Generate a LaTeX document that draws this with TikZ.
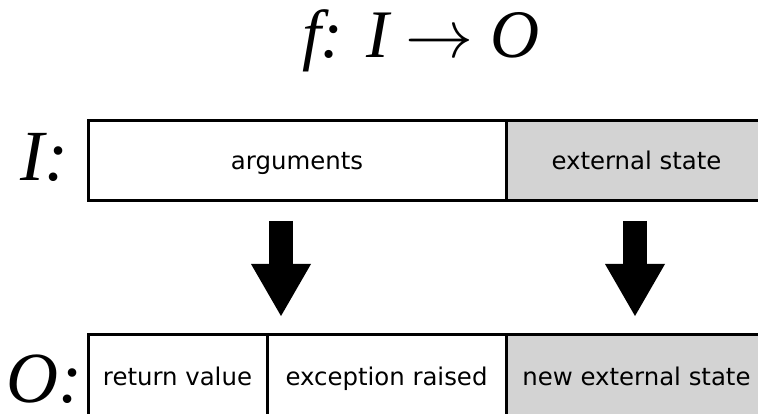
\documentclass[tikz,border=0pt]{standalone}
\usepackage{fix-cm}
\usepackage{fontspec}
\setsansfont{DejaVu Sans}
\newfontfamily\titlefont{Liberation Serif}
\usetikzlibrary{arrows.meta, positioning}
\definecolor{Ink}   {HTML}{000000}
\definecolor{StateF}{HTML}{D3D3D3}
\tikzset{
  cell/.style={
    rectangle, draw=Ink, fill=#1, text=Ink,
    font=\sffamily\fontsize{24.4}{29}\selectfont,
    line width=3pt, outer sep=0pt, inner sep=0pt,
    minimum height=80pt, text height=22pt, text depth=4pt,
  },
  cell/.default=white,
  % italic serif labels, size as argument
  lbl/.style={
    font=\titlefont\itshape\fontsize{#1}{#1}\selectfont,
    text=Ink, inner sep=0pt,
  },
  arr/.style={
    -{Triangle[length=52pt,width=60pt,line width=0pt]},
    line width=24pt, color=Ink,
  },
}
\begin{document}
\begin{tikzpicture}[x=1pt,y=-1pt]
    \useasboundingbox (0,0) rectangle (758,414);
    \clip (0,0) rectangle (758,414);

    \node[lbl=68, anchor=base] (title) at (421,58) {f: I $\rightarrow$ O};

    \node[cell, minimum width=418pt] (args) at (297,161) {arguments};
    \node[cell=StateF, minimum width=261pt, right=0pt of args] (ext) {external state};
    \node[lbl=72, anchor=base west] (ilbl) at (20,181) {I:};

    \node[cell, minimum width=179pt, minimum height=84pt, anchor=north west] (ret)
          at ([yshift=-133pt]args.south west) {return value};
    \node[cell, minimum width=239pt, minimum height=84pt, right=0pt of ret] (exc) {exception raised};
    \node[cell=StateF, minimum width=261pt, minimum height=84pt, right=0pt of exc] (newext) {new external state};
    \node[lbl=72, anchor=base west] (olbl) at (6,402) {O:};

    \coordinate (argtop) at (281,221);
    \coordinate (argtip) at (281,316);
    \coordinate (exttop) at (635,221);
    \coordinate (exttip) at (635,316);
    \draw[arr] (argtop) -- (argtip);
    \draw[arr] (exttop) -- (exttip);

\end{tikzpicture}
\end{document}
